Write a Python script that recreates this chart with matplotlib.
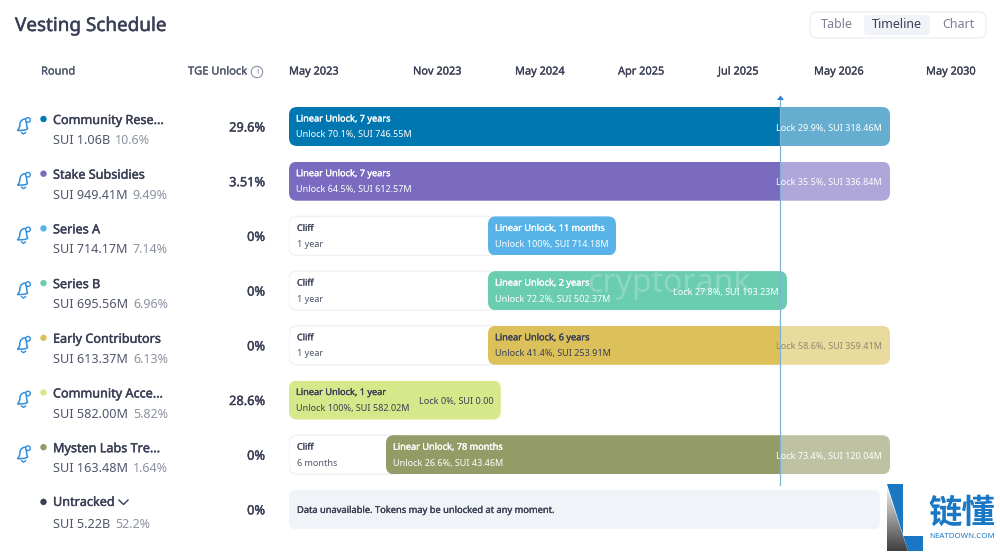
import numpy as np
import matplotlib
matplotlib.use("Agg")
import matplotlib.pyplot as plt
import matplotlib.patheffects as pe
from matplotlib.patches import FancyBboxPatch, Polygon, Circle, PathPatch
from matplotlib.path import Path
from matplotlib.transforms import IdentityTransform, blended_transform_factory

plt.rcParams['font.family'] = ['Noto Sans', 'DejaVu Sans']

# ---- data ----
rounds = ["Community Rese...", "Stake Subsidies", "Series A", "Series B",
          "Early Contributors", "Community Acce...", "Mysten Labs Tre...", "Untracked"]
amounts = ["SUI 1.06B", "SUI 949.41M", "SUI 714.17M", "SUI 695.56M",
           "SUI 613.37M", "SUI 582.00M", "SUI 163.48M", "SUI 5.22B"]
shares = ["10.6%", "9.49%", "7.14%", "6.96%", "6.13%", "5.82%", "1.64%", "52.2%"]
tge = ["29.6%", "3.51%", "0%", "0%", "0%", "28.6%", "0%", "0%"]
colors = ["#0077b0", "#7a6ac0", "#57b3e8", "#6bcdb0", "#dcc05a", "#d6e98a", "#939b67", "#3a3f55"]
lock_colors = ["#66aed0", "#afa6d9", "#57b3e8", "#6bcdb0", "#e9da9d", "#d6e98a", "#bec2a3", "#3a3f55"]
# months since May 2023
cliff_end = [0, 0, 12, 12, 12, 0, 6, None]
vest_end = [84, 84, 23, 36, 84, 13.1, 84, None]
today = 35.5
unavailable_end = 79.3
titles = ["Linear Unlock, 7 years", "Linear Unlock, 7 years", "Linear Unlock, 11 months",
          "Linear Unlock, 2 years", "Linear Unlock, 6 years", "Linear Unlock, 1 year",
          "Linear Unlock, 78 months", None]
unlocks = ["Unlock 70.1%, SUI 746.55M", "Unlock 64.5%, SUI 612.57M", "Unlock 100%, SUI 714.18M",
           "Unlock 72.2%, SUI 502.37M", "Unlock 41.4%, SUI 253.91M", "Unlock 100%, SUI 582.02M",
           "Unlock 26.6%, SUI 43.46M", None]
locks = ["Lock 29.9%, SUI 318.46M", "Lock 35.5%, SUI 336.84M", None, "Lock 27.8%, SUI 193.23M",
         "Lock 58.6%, SUI 359.41M", "Lock 0%, SUI 0.00", "Lock 73.4%, SUI 120.04M", None]
cliff_labels = [None, None, "1 year", "1 year", "1 year", None, "6 months", None]
tick_labels = ["May 2023", "Nov 2023", "May 2024", "Apr 2025", "Jul 2025", "May 2026", "May 2030"]
toggle_labels = ["Table", "Timeline", "Chart"]
unavailable_note = "Data unavailable. Tokens may be unlocked at any moment."

# ---- layout / style ----
W, H = 1000, 553
DARK, MID, GREY, BLUE = "#3a3f55", "#50566b", "#8b92a3", "#2f8fdc"
ROW0, PITCH, BAR_H = 126.5, 54.7, 39
L0, L1 = 289, 890
tick_px = [289, 413, 515, 618, 718, 814, 926]
knot_m = np.array([0, 6, 12, 23, 36, 84.0])
knot_px = np.array([289, 386, 488, 616, 787, 890.0])


def rowy(i):
    return ROW0 + PITCH * i


fig = plt.figure(figsize=(W / 100, H / 100), dpi=100, facecolor="white")

tl = fig.add_axes([L0 / W, 0, (L1 - L0) / W, 1], zorder=1)
fwd = lambda m: np.interp(m, knot_m, knot_px)
inv = lambda p: np.interp(p, knot_px, knot_m)
tl.set_xscale("function", functions=(fwd, inv))
tl.set_xlim(0, 84)
tl.set_ylim((H - ROW0) / PITCH, -ROW0 / PITCH)
tl.axis("off")

px = fig.add_axes([0, 0, 1, 1], zorder=2)
px.set_xlim(0, W)
px.set_ylim(H, 0)
px.axis("off")
px.patch.set_alpha(0)

fig.canvas.draw()


def T(x, y, s, stroke=0.0, **kw):
    """Text with a small baseline correction; stroke imitates a semibold weight."""
    kw.setdefault("va", "center")
    t = px.text(x, y + 1.5, s, **kw)
    if stroke:
        t.set_path_effects([pe.withStroke(linewidth=stroke, foreground=kw.get("color", DARK))])
    return t


def disp_box(x0, x1, i, r=8):
    a = tl.transData.transform([(x0, i - BAR_H / PITCH / 2), (x1, i + BAR_H / PITCH / 2)])
    xa, xb = sorted((a[0, 0], a[1, 0]))
    ya, yb = sorted((a[0, 1], a[1, 1]))
    return FancyBboxPatch((xa + r, ya + r), xb - xa - 2 * r, yb - ya - 2 * r,
                          boxstyle=f"round,pad={r},rounding_size={r}",
                          transform=IdentityTransform())


h = BAR_H / PITCH
for i in range(7):
    s, e = cliff_end[i], vest_end[i]
    if s > 0:
        c = disp_box(0, s + 1.0, i)
        c.set(facecolor="white", edgecolor="#f0f1f5", linewidth=1, zorder=1)
        tl.add_patch(c)
    solid_end = min(today, e)
    b = tl.barh(i, solid_end - s, left=s, height=h, color=colors[i], linewidth=0, zorder=2)[0]
    b.set_clip_path(disp_box(s, e, i))
    if e > today:
        b2 = tl.barh(i, e - today, left=today, height=h, color=lock_colors[i], linewidth=0, zorder=2)[0]
        b2.set_clip_path(disp_box(s, e, i))

p = disp_box(0, unavailable_end, 7, r=6)
p.set(facecolor="#f0f3f8", edgecolor="none", zorder=1)
tl.add_patch(p)

tr = blended_transform_factory(tl.transData, px.transData)
tl.plot([today, today], [97, 485], transform=tr, color="#7db4d6", lw=0.9, zorder=3, clip_on=False)
px.add_patch(Polygon([[777, 100], [780.5, 95.5], [784, 100]], closed=True, color="#2a7fd6", lw=0))

# header
T(15, 24.5, "Vesting Schedule", stroke=0.35, fontsize=13.6, color=DARK)
T(41, 70.5, "Round", stroke=0.2, fontsize=8, color=MID)
T(188, 70.5, "TGE Unlock", stroke=0.2, fontsize=8, color=MID)
px.add_patch(Circle((257, 72), 5.7, fill=False, ec="#8b92a3", lw=0.8))
T(257, 70.5, "i", fontsize=6.5, color="#8b92a3", ha="center")
for lab, x in zip(tick_labels, tick_px):
    T(x, 70.5, lab, stroke=0.2, fontsize=7.9, color=DARK)

# toggle
px.add_patch(FancyBboxPatch((816, 18), 164, 14, boxstyle="round,pad=6,rounding_size=7",
                            fc="white", ec="#eceef2", lw=1))
px.add_patch(FancyBboxPatch((868, 19), 58, 12, boxstyle="round,pad=4,rounding_size=4",
                            fc="#f0f3f8", ec="none"))
for lab, x, col in zip(toggle_labels, [837, 897, 958], ["#7b8194", DARK, "#7b8194"]):
    T(x, 23.5, lab, fontsize=9, color=col, ha="center")


def bell(y):
    v = [(17.5, y + 12), (20.3, y + 9), (19.8, y + 6), (20.3, y + 1.5), (24.5, y + 0.5), (26, y + 1),
         (26.5, y + 5.5), (27, y + 9), (30, y + 12), (17.5, y + 12)]
    c = [Path.MOVETO, Path.CURVE3, Path.CURVE3, Path.CURVE3, Path.CURVE3, Path.LINETO,
         Path.CURVE3, Path.CURVE3, Path.CURVE3, Path.LINETO]
    px.add_patch(PathPatch(Path(v, c), fill=False, ec=BLUE, lw=1.1))
    px.add_patch(Circle((28, y + 1.5), 2.3, fc="white", ec=BLUE, lw=1.0, zorder=3))
    px.plot([21.5, 23.5, 25.5], [y + 14, y + 15.5, y + 14], color=BLUE, lw=1.0)


for i in range(8):
    y = rowy(i)
    ny = y - 7.5 if i < 7 else y - 8.5
    sy = y + 12.5 if i < 7 else y + 14
    px.add_patch(Circle((43.5, y - 7.5), 3.2, color=colors[i], lw=0))
    T(53, ny, rounds[i], stroke=0.3, fontsize=9.1, color=DARK)
    t = T(53, sy, amounts[i], fontsize=9.1, color=MID)
    fig.canvas.draw()
    bb = t.get_window_extent()
    T(bb.x1 + 5, sy, shares[i], fontsize=9.0, color=GREY)
    T(265, y, tge[i], stroke=0.3, fontsize=9.2, color=DARK, ha="right")
    if i < 7:
        bell(y - 8)
        txt_x = fwd(cliff_end[i]) + 7
        tcol = DARK if i in (4, 5) else "white"
        T(txt_x, y - 9, titles[i], stroke=0.2, fontsize=6.6, color=tcol, zorder=5)
        T(txt_x, y + 7, unlocks[i], fontsize=6.5, color=tcol, zorder=5)
        if cliff_labels[i]:
            T(297, y - 9, "Cliff", stroke=0.12, fontsize=6.5, color=DARK)
            T(297, y + 7, cliff_labels[i], fontsize=6.5, color=MID)
        if locks[i]:
            rx = fwd(vest_end[i]) - 8 if i != 3 else 779
            lcol = {4: "#8f8a70", 5: DARK}.get(i, "white")
            if i == 5:
                rx = 494
            T(rx, y, locks[i], fontsize=6.5, color=lcol, ha="right", zorder=5)
px.plot([119, 123.5, 128], [500, 504.5, 500], color=DARK, lw=1.0)
T(297, rowy(7) - 0.5, unavailable_note, stroke=0.2, fontsize=6.7, color=DARK)

# watermark
T(587, 282, "cryptorank", fontsize=23, color="#dff1ec", alpha=0.28, zorder=4)

# logo
grad = np.linspace(0.25, 0.92, 64)[::-1].reshape(-1, 1)
im = px.imshow(grad, extent=(887, 909, 551, 488), cmap="gray", vmin=0, vmax=1, aspect="auto", zorder=3)
tri = Polygon([[887, 487], [887, 551], [908, 551]], closed=True, transform=px.transData, fc="none", ec="none")
px.add_patch(tri)
im.set_clip_path(tri)
px.add_patch(Polygon([[887, 484], [903, 484], [903, 536], [923, 536], [923, 551], [908, 551]],
                     closed=True, color="#1a77c4", lw=0, zorder=3))
px.set_xlim(0, W)
px.set_ylim(H, 0)
px.text(962, 513, "链懂", family=["Noto Sans CJK SC", "DejaVu Sans"], fontsize=24, fontweight="bold",
        color="#1a77c4", ha="center", va="center")
px.text(962.5, 536, "NEATDOWN.COM", fontsize=5.7, fontweight="bold", color="#1a77c4", ha="center", va="center")

fig.savefig("out.png", dpi=100, facecolor="white")
